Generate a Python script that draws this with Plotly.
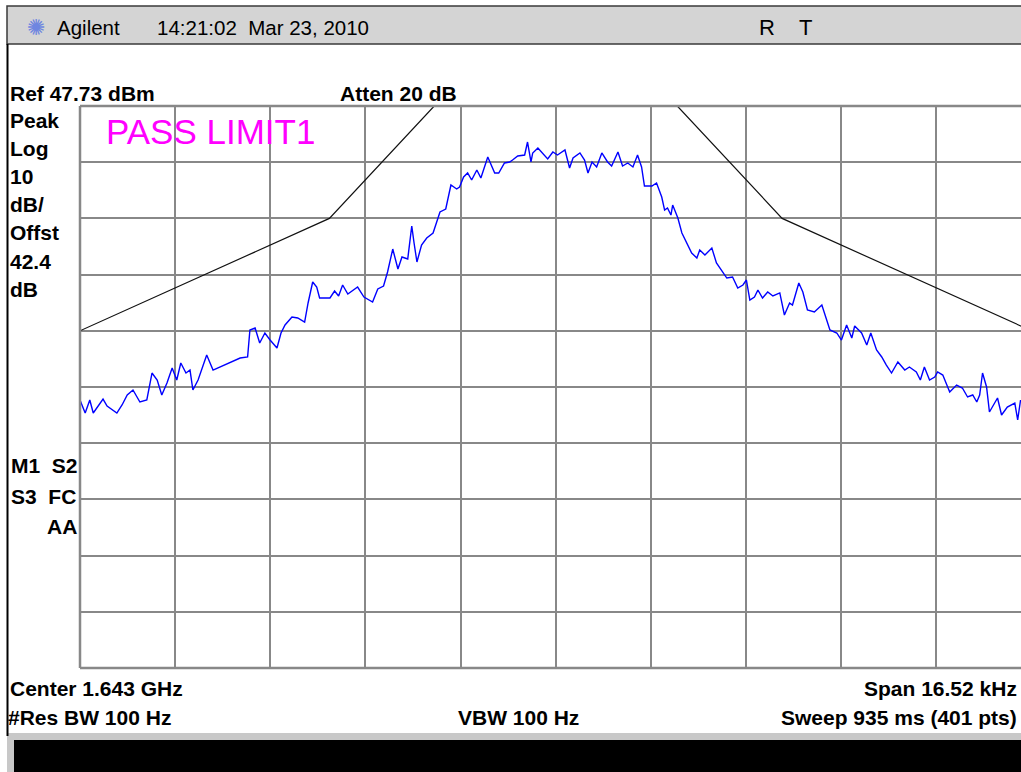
import plotly.graph_objects as go

# ---------------- data (frequency offset from centre in kHz, amplitude in dBm) ----------------
freq_khz = [-8.26, -8.17, -8.09, -8.03, -7.86, -7.79, -7.62, -7.53, -7.44, -7.34,
            -7.22, -7.10, -7.01, -6.92, -6.84, -6.75, -6.66, -6.58, -6.51, -6.42,
            -6.35, -6.30, -6.21, -6.06, -5.95, -5.83, -5.66, -5.48, -5.35, -5.31,
            -5.22, -5.14, -5.05, -4.96, -4.84, -4.77, -4.70, -4.58, -4.48, -4.36,
            -4.30, -4.22, -4.15, -4.10, -3.92, -3.84, -3.77, -3.70, -3.61, -3.44,
            -3.33, -3.18, -3.09, -2.99, -2.92, -2.83, -2.74, -2.67, -2.57, -2.50,
            -2.46, -2.41, -2.33, -2.24, -2.13, -2.01, -1.91, -1.82, -1.72, -1.67,
            -1.60, -1.53, -1.46, -1.37, -1.30, -1.18, -1.06, -0.99, -0.89, -0.80,
            -0.75, -0.66, -0.54, -0.49, -0.43, -0.40, -0.31, -0.14, -0.05, 0.03,
            0.16, 0.24, 0.30, 0.42, 0.50, 0.56, 0.63, 0.71, 0.80, 0.90,
            0.97, 1.08, 1.16, 1.25, 1.34, 1.42, 1.49, 1.54, 1.67, 1.75,
            1.84, 1.89, 1.94, 2.00, 2.03, 2.12, 2.19, 2.27, 2.36, 2.45,
            2.50, 2.59, 2.71, 2.79, 2.88, 2.97, 3.07, 3.16, 3.25, 3.31,
            3.37, 3.45, 3.51, 3.59, 3.68, 3.77, 3.89, 3.97, 4.06, 4.11,
            4.22, 4.29, 4.37, 4.49, 4.62, 4.70, 4.76, 4.88, 4.96, 5.05,
            5.14, 5.19, 5.31, 5.40, 5.47, 5.57, 5.66, 5.74, 5.83, 5.94,
            6.06, 6.14, 6.26, 6.33, 6.40, 6.49, 6.58, 6.63, 6.72, 6.84,
            6.96, 7.06, 7.15, 7.24, 7.31, 7.36, 7.41, 7.48, 7.53, 7.62,
            7.67, 7.74, 7.84, 7.97, 8.02, 8.07]
level_dbm = [-4.58, -6.90, -4.58, -6.90, -4.41, -5.65, -6.90, -5.47, -3.69, -2.80,
             -4.94, -4.58, 0.22, -1.03, -3.69, -1.56, 1.11, -1.03, 2.00, 0.22,
             0.75, -2.80, -1.03, 3.42, 0.75, 1.29, 2.18, 2.89, 3.07, 7.87,
             8.23, 5.56, 7.34, 6.09, 4.67, 7.34, 8.76, 10.18, 10.01, 9.29,
             12.68, 16.41, 15.52, 13.57, 13.57, 14.81, 13.92, 15.88, 14.28, 15.52,
             13.74, 12.85, 15.17, 15.70, 18.19, 22.28, 18.73, 20.86, 20.51, 26.38,
             23.35, 19.97, 23.00, 24.24, 25.13, 28.87, 29.40, 33.67, 32.96, 33.32,
             35.10, 35.81, 34.56, 36.34, 34.92, 38.66, 35.81, 35.81, 37.59, 37.77,
             38.12, 38.83, 39.01, 41.32, 37.77, 39.37, 40.26, 38.30, 39.54, 39.01,
             39.90, 36.70, 38.48, 39.37, 38.12, 35.81, 37.77, 36.88, 39.37, 37.77,
             37.05, 39.54, 37.05, 37.59, 36.88, 39.01, 36.88, 33.49, 33.49, 34.03,
             31.54, 29.22, 29.58, 28.33, 30.11, 27.80, 25.13, 23.53, 21.57, 20.68,
             22.11, 21.22, 22.46, 19.79, 18.55, 17.12, 17.30, 15.34, 15.88, 16.77,
             13.21, 13.74, 14.99, 13.57, 14.63, 13.92, 14.46, 10.54, 12.68, 12.32,
             16.23, 14.63, 11.43, 11.07, 12.32, 9.65, 7.87, 7.34, 6.09, 8.76,
             6.45, 8.58, 7.34, 5.20, 7.34, 4.31, 3.07, 1.64, 0.22, 2.18,
             0.75, 1.29, 0.40, -1.03, 1.29, -1.03, -0.49, 0.40, -0.14, -3.16,
             -1.92, -2.45, -4.05, -3.69, -4.94, -3.69, 0.22, -2.27, -6.72, -5.12,
             -4.23, -7.25, -5.83, -5.12, -8.14, -4.58]

limit_freq_khz = [-8.26, -3.93, -2.11, 2.11, 3.93, 8.26]
limit_dbm = [7.73, 27.73, 47.73, 47.73, 27.73, 7.73]

ref_level_dbm = 47.73
db_per_div = 10
span_khz = 16.52

# ---------------- layout geometry ----------------
W, H = 1021, 772
PL, PR, PT, PB = 80, 1021, 106, 668          # plot-area pixel box (right edge is cut off)
FULL_R = 1031.5                               # where the (cut off) right edge would be
div_khz = span_khz / 10
x_lo = -span_khz / 2
x_hi = x_lo + (PR - PL) * span_khz / (FULL_R - PL)
y_lo = ref_level_dbm - 10 * db_per_div
y_hi = ref_level_dbm

def px(x):
    return (x - PL) / (PR - PL)

def py(y):
    return (PB - y) / (PB - PT)

GRID = "#888888"
FONT = "Liberation Sans, Arial, sans-serif"

fig = go.Figure()
fig.add_trace(go.Scatter(x=limit_freq_khz, y=limit_dbm, mode="lines",
                         line=dict(color="#111111", width=1.2), hoverinfo="skip",
                         showlegend=False))
fig.add_trace(go.Scatter(x=freq_khz, y=level_dbm, mode="lines",
                         line=dict(color="#0000ff", width=1.4), showlegend=False))

shapes = []
# header bar
shapes.append(dict(type="rect", xref="paper", yref="paper", x0=px(7), x1=px(1030),
                   y0=py(44), y1=py(6), fillcolor="#d4d4d4",
                   line=dict(color="#3a3a3a", width=1.5), layer="below"))
# left outer frame line
shapes.append(dict(type="line", xref="paper", yref="paper", x0=px(7.5), x1=px(7.5),
                   y0=py(44), y1=py(736), line=dict(color="#000000", width=2)))
# bottom status bar (gray frame + black)
shapes.append(dict(type="rect", xref="paper", yref="paper", x0=px(7), x1=px(1030),
                   y0=py(772), y1=py(733), fillcolor="#c8c8c8",
                   line=dict(color="#c8c8c8", width=0), layer="below"))
shapes.append(dict(type="rect", xref="paper", yref="paper", x0=px(14), x1=px(1030),
                   y0=py(772), y1=py(740), fillcolor="#000000",
                   line=dict(color="#000000", width=0), layer="below"))
# plot-area border (left, top, bottom)
for (x0, y0, x1, y1) in [(PL, PT, PL, PB), (PL, PT, PR, PT), (PL, PB, PR, PB)]:
    shapes.append(dict(type="line", xref="paper", yref="paper", x0=px(x0), x1=px(x1),
                       y0=py(y0), y1=py(y1), line=dict(color=GRID, width=2.5)))

ann = []
def label(text, x, y, size=21, bold=True, anchor="left", color="#000000", family=FONT):
    t = f"<b>{text}</b>" if bold else text
    ann.append(dict(text=t, x=px(x), y=py(y), xref="paper", yref="paper",
                    xanchor=anchor, yanchor="middle", showarrow=False,
                    font=dict(size=size, color=color, family=family)))

label("✺", 36, 27, size=22, bold=False, anchor="center", color="#6f86e0",
      family="DejaVu Sans")
label("Agilent", 55, 27, size=20.5, bold=False)
label("14:21:02  Mar 23, 2010", 155, 28, size=20.5, bold=False)
label("R", 757, 28, size=22, bold=False)
label("T", 797, 28, size=22, bold=False)

label("Ref 47.73 dBm", 8, 93)
label("Atten 20 dB", 338, 93)
for i, t in enumerate(["Peak", "Log", "10", "dB/", "Offst", "42.4", "dB"]):
    label(t, 8, 120 + i * 28.2)
label("M1  S2", 9, 466)
label("S3  FC", 9, 496)
label("AA", 79, 526, anchor="right")

label("PASS LIMIT1", 104, 132, size=35, bold=False, color="#ff00ff")

label("Center 1.643 GHz", 8, 688)
label("Span 16.52 kHz", 1019, 688, anchor="right")
label("#Res BW 100 Hz", 6, 717)
label("VBW 100 Hz", 456, 717)
label("Sweep 935 ms (401 pts)", 1019, 717, anchor="right")

fig.update_layout(
    width=W, height=H, autosize=False,
    margin=dict(l=PL, r=W - PR, t=PT, b=H - PB, pad=0),
    paper_bgcolor="#ffffff", plot_bgcolor="#ffffff",
    shapes=shapes, annotations=ann,
    xaxis=dict(range=[x_lo, x_hi], tick0=x_lo, dtick=div_khz, showgrid=True,
               gridcolor=GRID, gridwidth=2, zeroline=False, showticklabels=False,
               ticks="", showline=False, fixedrange=True),
    yaxis=dict(range=[y_lo, y_hi], tick0=y_hi, dtick=db_per_div, showgrid=True,
               gridcolor=GRID, gridwidth=2, zeroline=False, showticklabels=False,
               ticks="", showline=False, fixedrange=True),
    showlegend=False,
)

fig.write_html(
    "out.html",
    config={"displayModeBar": False},
    post_script="document.body.style.margin='0';document.body.style.padding='0';"
                "document.body.style.overflow='hidden';",
)
